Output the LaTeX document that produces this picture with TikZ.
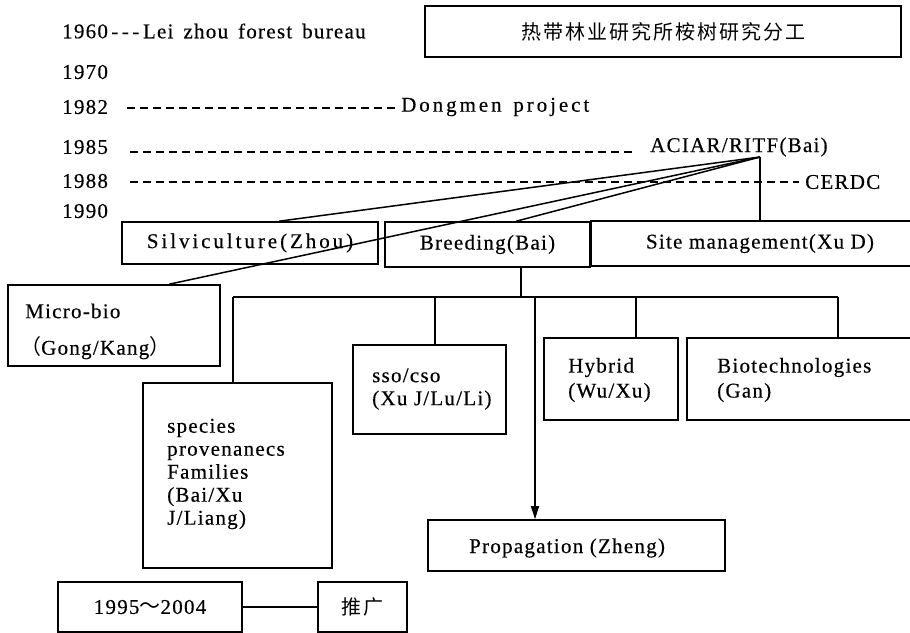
\documentclass[tikz,border=0pt]{standalone}
\usepackage{fontspec}
\setmainfont{Liberation Serif}[LetterSpace=6,FakeBold=0.4]
\newfontfamily\cjk{Noto Sans CJK SC}[LetterSpace=10]
\newfontfamily\widerm{Liberation Serif}[LetterSpace=14,FakeBold=0.4]
\usetikzlibrary{arrows.meta}
\begin{document}
\begin{tikzpicture}[x=1pt,y=-1pt,
  box/.style={draw, line width=1.6pt, inner sep=0pt},
  lbl/.style={inner sep=0pt, font=\fontsize{21}{23}\selectfont},
  wlbl/.style={lbl, anchor=west, align=left},
  conn/.style={line width=1.5pt},
  dsh/.style={line width=1.3pt, dash pattern=on 8pt off 5pt},
]
\useasboundingbox (0,0) rectangle (910,632);
% boxes
\node[box, minimum width=476pt, minimum height=51pt] (title) at (663,31.5) {};
\node[box, minimum width=256pt, minimum height=42pt] (silv) at (250,243) {};
\node[box, minimum width=205pt, minimum height=45pt] (breed) at (487.5,244.5) {};
\node[box, minimum width=338pt, minimum height=45pt] (site) at (760,243.5) {};
\node[box, minimum width=212pt, minimum height=81pt] (micro) at (114,325.5) {};
\node[box, minimum width=189pt, minimum height=185pt] (species) at (237.5,475.5) {};
\node[box, minimum width=153pt, minimum height=89pt] (sso) at (429.5,389.5) {};
\node[box, minimum width=134pt, minimum height=82pt] (hyb) at (611,379) {};
\node[box, minimum width=243pt, minimum height=82pt] (bio) at (808.5,379) {};
\node[box, minimum width=297pt, minimum height=51pt] (prop) at (576.5,545.5) {};
\node[box, minimum width=184pt, minimum height=50pt] (yr) at (150,607) {};
\node[box, minimum width=89pt, minimum height=50pt] (tg) at (362.5,607) {};
% texts in boxes
\node[lbl, font=\fontsize{20}{23}\cjk] (titletext) at (title.center) {热带林业研究所桉树研究分工};
\node[lbl, font=\fontsize{21}{23}\widerm] (silvtext) at (silv.center) {Silviculture(Zhou)};
\node[lbl] (breedtext) at (breed.center) {Breeding(Bai)};
\node[lbl] (sitetext) at (site.center) {Site management(Xu D)};
\node[wlbl] (microtext1) at (25,311) {Micro-bio};
\node[wlbl] (microtext2) at (20,348) {{\cjk （}Gong/Kang{\cjk ）}};
\node[wlbl] (speciestext) at (167,474) {species\\provenanecs\\Families\\(Bai/Xu\\J/Liang)};
\node[wlbl] (ssotext) at (372,389) {sso/cso\\(Xu J/Lu/Li)};
\node[wlbl, font=\fontsize{21}{25}\selectfont] (hybtext) at (568,380) {Hybrid\\(Wu/Xu)};
\node[wlbl, font=\fontsize{21}{25}\selectfont] (biotext) at (717,380) {Biotechnologies\\(Gan)};
\node[wlbl] (proptext) at (469,548) {Propagation (Zheng)};
\node[lbl] (yrtext) at (yr.center) {1995{\cjk ～}2004};
\node[lbl, font=\fontsize{20}{23}\cjk] (tgtext) at (tg.center) {推广};
% timeline
\node[wlbl] (y60) at (62,31) {1960\,-{}\,-{}\,-\,Lei\ \,zhou\ \,forest\ \,bureau};
\node[wlbl] (y70) at (62,72) {1970};
\node[wlbl] (y82) at (62,107) {1982};
\node[wlbl] (y85) at (62,147) {1985};
\node[wlbl] (y88) at (62,181) {1988};
\node[wlbl] (y90) at (62,211) {1990};
\node[wlbl, font=\fontsize{21}{23}\widerm] (dong) at (401,107) {Dongmen\ \,project};
\node[wlbl] (aciar) at (650,147) {ACIAR/RITF(Bai)};
\node[wlbl] (cerdc) at (805,182) {CERDC};
\draw[dsh] ([xshift=19pt,yshift=-1pt]y82.east) -- ([xshift=-6pt,yshift=-1pt]dong.west);
\draw[dsh] ([xshift=22pt,yshift=-5pt]y85.east) -- ([xshift=-14pt,yshift=-5pt]aciar.west);
\draw[dsh] ([xshift=22pt,yshift=-1pt]y88.east) -- ([xshift=-6pt,yshift=0pt]cerdc.west);
% convergence
\coordinate (conv) at (760,157);
\draw[conn] (conv) -- ([xshift=158pt]silv.north west);
\draw[conn] (conv) -- ([xshift=162pt]micro.north west);
\draw[conn] (conv) -- ([xshift=132pt]breed.north west);
\draw[conn] (conv) -- (site.north);
% breeding tree
\coordinate (bs) at (521,297);
\coordinate (b1) at (233,297);
\coordinate (b2) at (435,297);
\coordinate (b3) at (535,297);
\coordinate (b4) at (636,297);
\coordinate (b5) at (838,297);
\draw[conn] (bs |- breed.south) -- (bs);
\draw[conn] (b1) -- (b5);
\draw[conn] (b1) -- (b1 |- species.north);
\draw[conn] (b2) -- (b2 |- sso.north);
\draw[conn, -{Triangle[length=13pt,width=8pt]}] (b3) -- (b3 |- prop.north);
\draw[conn] (b4) -- (b4 |- hyb.north);
\draw[conn] (b5) -- (b5 |- bio.north);
% bottom
\draw[conn] (yr.east) -- (tg.west);
\end{tikzpicture}
\end{document}
